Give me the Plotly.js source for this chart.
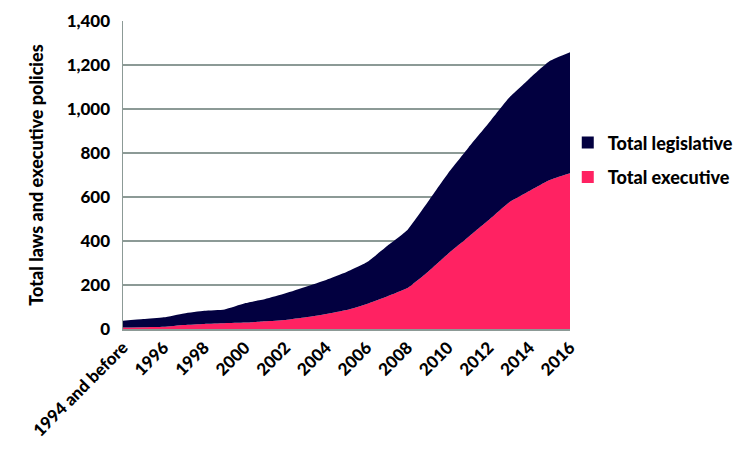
<!DOCTYPE html>
<html>
<head>
<meta charset="utf-8">
<script src="https://cdn.plot.ly/plotly-3.0.1.min.js"></script>
<style>html,body{margin:0;padding:0;background:#fff;}#chart{width:750px;height:465px;}</style>
</head>
<body>
<div id="chart"></div>
<script>
const years = ["1994 and before","1995","1996","1997","1998","1999","2000","2001","2002","2003","2004","2005","2006","2007","2008","2009","2010","2011","2012","2013","2014","2015","2016"];
const executive = [7,8,10,18,23,26,29,35,41,53,68,86,114,148,186,259,342,418,495,575,627,677,708];
const legislative = [31,37,43,53,60,63,88,101,121,139,155,173,189,229,264,318,366,406,441,476,511,541,550];
const tickLabels = ["1994 and before","1996","1998","2000","2002","2004","2006","2008","2010","2012","2014","2016"];

const navy = "#020040", pink = "#ff2262";
const fontFam = "Lato, 'Open Sans', sans-serif";
const f = (s) => ({family: fontFam, size: s, color: "#000", weight: 900});
const traces = [
  {x: years, y: executive, name: "Total executive", type: "scatter", mode: "lines", showlegend: false,
   stackgroup: "one", fillcolor: pink, line: {width: 0, shape: "spline", smoothing: 0.4, color: pink}},
  {x: years, y: legislative, name: "Total legislative", type: "scatter", mode: "lines", showlegend: false,
   stackgroup: "one", fillcolor: navy, line: {width: 0, shape: "spline", smoothing: 0.4, color: navy}},
  {x: [null], y: [null], name: "Total legislative", type: "scatter", mode: "markers", legendgroup: "a",
   marker: {symbol: "square", size: 10, color: navy}, hoverinfo: "skip"},
  {x: [null], y: [null], name: "Total executive", type: "scatter", mode: "markers", legendgroup: "b",
   marker: {symbol: "square", size: 10, color: pink}, hoverinfo: "skip"}
];
const layout = {
  width: 750, height: 465,
  margin: {l: 123, r: 175, t: 21, b: 136},
  paper_bgcolor: "#fff", plot_bgcolor: "#fff",
  font: f(17),
  showlegend: true,
  legend: {x: 0.995, y: 0.549, xanchor: "left", yanchor: "middle", traceorder: "grouped",
           bgcolor: "rgba(0,0,0,0)", borderwidth: 0,
           font: f(18), tracegroupgap: 8, itemwidth: 30, itemsizing: "constant"},
  xaxis: {type: "category", range: [0, 22], tickmode: "array", tickvals: tickLabels, ticktext: tickLabels,
          tickangle: -45, showgrid: false, showline: true, linecolor: "#8c9a96", linewidth: 2,
          ticks: "", zeroline: false, fixedrange: true, tickfont: f(17)},
  yaxis: {range: [0, 1400], dtick: 200, tickformat: ",", showgrid: true, gridcolor: "#8c9a96", gridwidth: 1.5,
          showline: true, linecolor: "#8c9a96", linewidth: 1.5, ticks: "", zeroline: false,
          ticklabelstandoff: 8,
          title: {text: "Total laws and executive policies", standoff: 18, font: f(18)},
          tickfont: f(17)}
};
Plotly.newPlot("chart", traces, layout, {displayModeBar: false, staticPlot: true});
</script>
</body>
</html>
